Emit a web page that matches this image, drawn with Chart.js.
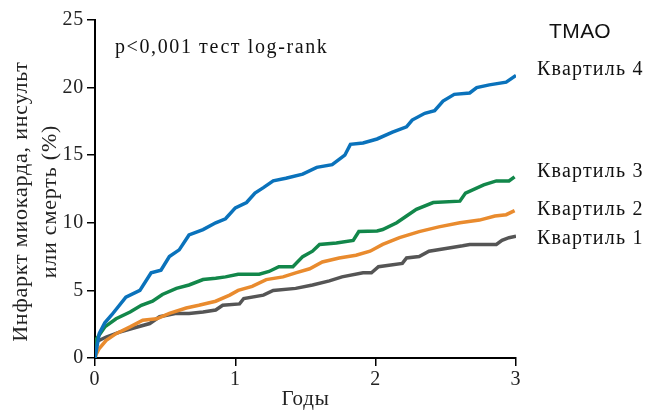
<!DOCTYPE html>
<html>
<head>
<meta charset="utf-8">
<script src="https://cdn.jsdelivr.net/npm/chart.js@4/dist/chart.umd.min.js"></script>
<style>
  body { margin: 0; background: #fff; }
  #wrap { width: 648px; height: 412px; }
</style>
</head>
<body>
<div id="wrap"><canvas id="kmChart" width="648" height="412"></canvas></div>
<script>
// годы наблюдения и накопленная частота событий (%), по квартилям ТМАО
var q4Years = [0, 0.03, 0.07, 0.12, 0.22, 0.32, 0.40, 0.47, 0.53, 0.60, 0.67, 0.77, 0.86, 0.93, 1.0, 1.08, 1.14, 1.20, 1.27, 1.36, 1.48, 1.58, 1.69, 1.78, 1.82, 1.91, 2.01, 2.12, 2.22, 2.26, 2.35, 2.42, 2.48, 2.56, 2.67, 2.72, 2.81, 2.93, 3.0];
var q4Values = [0, 1.8, 2.6, 3.2, 4.5, 5.0, 6.3, 6.5, 7.5, 8.0, 9.1, 9.5, 10.0, 10.3, 11.1, 11.5, 12.2, 12.6, 13.1, 13.3, 13.6, 14.1, 14.3, 15.0, 15.8, 15.9, 16.2, 16.7, 17.1, 17.6, 18.1, 18.3, 19.0, 19.5, 19.6, 20.0, 20.2, 20.4, 20.9];

var q3Years = [0, 0.01, 0.07, 0.15, 0.25, 0.33, 0.41, 0.48, 0.58, 0.67, 0.77, 0.86, 0.93, 1.02, 1.17, 1.24, 1.31, 1.41, 1.48, 1.55, 1.60, 1.72, 1.84, 1.88, 2.01, 2.05, 2.15, 2.22, 2.29, 2.41, 2.60, 2.64, 2.77, 2.86, 2.95, 2.99];
var q3Values = [0, 1.4, 2.3, 2.9, 3.4, 3.9, 4.2, 4.7, 5.15, 5.4, 5.8, 5.9, 6.0, 6.2, 6.2, 6.4, 6.75, 6.75, 7.5, 7.9, 8.4, 8.5, 8.7, 9.35, 9.4, 9.5, 10.0, 10.5, 11.0, 11.5, 11.6, 12.2, 12.8, 13.1, 13.1, 13.4];

var q2Years = [0, 0.01, 0.03, 0.08, 0.15, 0.25, 0.34, 0.44, 0.53, 0.65, 0.74, 0.86, 0.96, 1.02, 1.12, 1.22, 1.34, 1.43, 1.53, 1.62, 1.74, 1.86, 1.96, 2.05, 2.17, 2.31, 2.45, 2.60, 2.74, 2.85, 2.93, 2.99];
var q2Values = [0, 0.3, 0.7, 1.3, 1.8, 2.3, 2.8, 2.9, 3.3, 3.7, 3.9, 4.2, 4.65, 5.0, 5.3, 5.8, 6.0, 6.3, 6.6, 7.1, 7.4, 7.6, 7.9, 8.4, 8.9, 9.35, 9.7, 10.0, 10.2, 10.5, 10.6, 10.9];

var q1Years = [0, 0.01, 0.08, 0.17, 0.27, 0.39, 0.46, 0.58, 0.67, 0.77, 0.86, 0.91, 1.03, 1.06, 1.20, 1.27, 1.43, 1.55, 1.67, 1.76, 1.91, 1.97, 2.02, 2.19, 2.22, 2.31, 2.38, 2.50, 2.62, 2.67, 2.86, 2.90, 2.95, 3.0];
var q1Values = [0, 1.2, 1.55, 1.9, 2.2, 2.55, 3.05, 3.3, 3.3, 3.4, 3.55, 3.9, 4.0, 4.4, 4.65, 5.0, 5.15, 5.4, 5.7, 6.0, 6.3, 6.3, 6.75, 7.0, 7.4, 7.5, 7.9, 8.1, 8.3, 8.4, 8.4, 8.7, 8.9, 9.0];

var seriesNames = ["Квартиль 4", "Квартиль 3", "Квартиль 2", "Квартиль 1"];
var seriesColors = ["#0a72bb", "#12874a", "#e98b2e", "#555555"];

var xTicks = [0, 1, 2, 3];
var yTicks = [0, 5, 10, 15, 20, 25];

function toPoints(xs, ys) {
  return xs.map(function (x, i) { return { x: x, y: ys[i] }; });
}

var allSeries = [[q4Years, q4Values], [q3Years, q3Values], [q2Years, q2Values], [q1Years, q1Values]];

var datasets = allSeries.map(function (s, i) {
  return {
    label: seriesNames[i],
    data: toPoints(s[0], s[1]),
    borderColor: seriesColors[i],
    borderWidth: 3.5,
    pointRadius: 0,
    tension: 0,
    fill: false
  };
});

var serif = '"Liberation Serif", "Times New Roman", serif';
Chart.defaults.font.family = serif;

// межбуквенный интервал, как в оригинале
var spacingPlugin = {
  id: 'spacingPlugin',
  beforeInit: function (chart) { chart.ctx.letterSpacing = '0.8px'; },
  beforeDraw: function (chart) { chart.ctx.letterSpacing = '0.8px'; }
};

// подписи справа и p-значение
var labelYs = [70, 172, 210, 239];
var textPlugin = {
  id: 'textPlugin',
  afterDraw: function (chart) {
    var ctx = chart.ctx;
    ctx.save();
    ctx.fillStyle = '#111';
    ctx.textBaseline = 'middle';
    ctx.textAlign = 'left';
    ctx.letterSpacing = '0.5px';
    ctx.font = '21px "Liberation Sans", Arial, sans-serif';
    ctx.fillText('ТМАО', 549, 32);
    ctx.letterSpacing = '1.2px';
    ctx.font = '20px ' + serif;
    seriesNames.forEach(function (n, i) {
      ctx.fillText(n, 537, labelYs[i]);
    });
    ctx.letterSpacing = '1.6px';
    ctx.fillText('p<0,001 тест log-rank', 115, 48);
    ctx.restore();
  }
};

var ctx = document.getElementById('kmChart').getContext('2d');

new Chart(ctx, {
  type: 'line',
  data: { datasets: datasets },
  plugins: [spacingPlugin, textPlugin],
  options: {
    responsive: false,
    animation: false,
    layout: { padding: { left: 0, top: 20, right: 132, bottom: 0 } },
    plugins: {
      legend: { display: false },
      tooltip: { enabled: false }
    },
    scales: {
      x: {
        type: 'linear',
        min: 0,
        max: 3,
        afterBuildTicks: function (axis) {
          axis.ticks = xTicks.map(function (v) { return { value: v }; });
        },
        afterFit: function (axis) { axis.height = 54; },
        grid: { drawOnChartArea: false, drawTicks: true, tickLength: 8, color: '#000', lineWidth: 1.5 },
        border: { display: true, color: '#000', width: 2 },
        ticks: { color: '#222', padding: 2, font: { family: serif, size: 20 } },
        title: {
          display: true,
          text: 'Годы',
          color: '#222',
          padding: { top: 2, bottom: 0 },
          font: { family: serif, size: 21 }
        }
      },
      y: {
        min: 0,
        max: 25,
        afterBuildTicks: function (axis) {
          axis.ticks = yTicks.map(function (v) { return { value: v }; });
        },
        afterFit: function (axis) { axis.width = 95; },
        grid: { drawOnChartArea: false, drawTicks: true, tickLength: 8, color: '#000', lineWidth: 1.5 },
        border: { display: true, color: '#000', width: 2 },
        ticks: { color: '#222', padding: 3, font: { family: serif, size: 20 } },
        title: {
          display: true,
          text: ['Инфаркт миокарда, инсульт\u00A0\u00A0\u00A0\u00A0', 'или смерть (%)\u00A0\u00A0\u00A0\u00A0'],
          color: '#222',
          padding: { top: 6, bottom: 2 },
          font: { family: serif, size: 22, lineHeight: 1.35 }
        }
      }
    }
  }
});
</script>
</body>
</html>
